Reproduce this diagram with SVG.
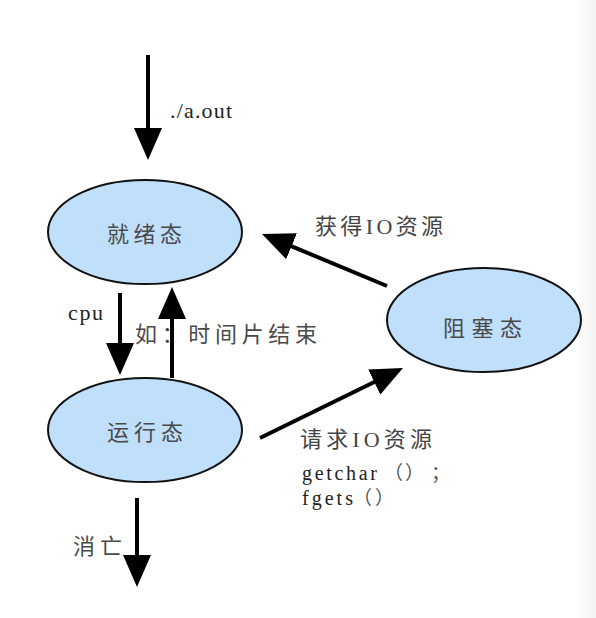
<svg xmlns="http://www.w3.org/2000/svg" width="596" height="618" viewBox="0 0 596 618">
<defs>
<linearGradient id="edge" x1="0" y1="0" x2="1" y2="0">
<stop offset="0" stop-color="#ffffff"/>
<stop offset="1" stop-color="#f3f3f3"/>
</linearGradient>
<marker id="ah" viewBox="0 0 32 28" refX="16" refY="14" markerWidth="32" markerHeight="28" markerUnits="userSpaceOnUse" orient="auto">
<path d="M0,0 L32,14 L0,28 z" fill="#000"/>
</marker>
<style>
.state{fill:#c0dffb;stroke:#111;stroke-width:2}
.lbl{font-family:"Noto Sans CJK SC","Liberation Serif",sans-serif;font-size:22px;fill:#4a4a4a}
.lat{font-family:"Liberation Serif","Noto Sans CJK SC",serif;font-size:22px;fill:#222}
.code{font-family:"Liberation Serif","Noto Sans CJK SC",serif;font-size:20px;fill:#222}
.mix{font-family:"Liberation Serif","Noto Sans CJK SC",serif;font-size:22px;fill:#444}
.par{font-family:"Noto Sans CJK SC",sans-serif;font-size:19px;fill:#555}
.conn line{stroke:#000;stroke-width:4;marker-end:url(#ah)}
</style>
</defs>
<rect width="596" height="618" fill="#fff"/>
<rect x="574" y="0" width="22" height="618" fill="url(#edge)"/>
<g id="connectors" class="conn">
<line x1="148" y1="55" x2="148" y2="144"/>
<line x1="120" y1="293" x2="120" y2="359"/>
<line x1="172" y1="378" x2="172" y2="303"/>
<line x1="387" y1="286" x2="276.8" y2="240.1"/>
<line x1="260" y1="438" x2="388.6" y2="375"/>
<line x1="137" y1="498" x2="137" y2="571"/>
</g>
<g id="ready">
<ellipse class="state" cx="145" cy="232" rx="97" ry="52"/>
<text class="lbl" x="107" y="242" textLength="75">就绪态</text>
</g>
<g id="running">
<ellipse class="state" cx="145" cy="430" rx="97" ry="52"/>
<text class="lbl" x="107" y="440" textLength="76">运行态</text>
</g>
<g id="blocked">
<ellipse class="state" cx="484" cy="320" rx="97" ry="52"/>
<text class="lbl" x="443" y="336" textLength="79">阻塞态</text>
</g>
<g id="labels">
<text class="lat" x="170" y="118" textLength="62">./a.out</text>
<text class="lat" x="68" y="320" textLength="35">cpu</text>
<text class="lbl" x="135" y="342" textLength="182">如：时间片结束</text>
<text class="mix" x="315" y="234" textLength="128">获得IO资源</text>
<text class="mix" x="300" y="447" textLength="132">请求IO资源</text>
<text class="code" y="480"><tspan x="302" textLength="75">getchar</tspan><tspan class="par" x="384">（</tspan><tspan class="par" x="405">）</tspan><tspan class="par" x="431">；</tspan></text>
<text class="code" y="505"><tspan x="302" textLength="51">fgets</tspan><tspan class="par" x="353">（</tspan><tspan class="par" x="375">）</tspan></text>
<text class="lbl" x="73" y="554" textLength="49">消亡</text>
</g>
</svg>
